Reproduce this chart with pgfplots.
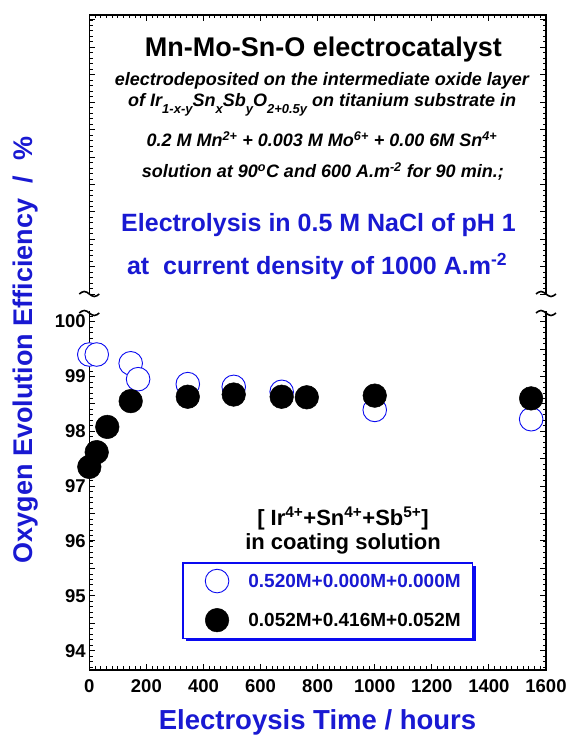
\documentclass[border=0pt]{standalone}
\usepackage{fontspec}
\setmainfont{Liberation Sans}
\usepackage{pgfplots}
\pgfplotsset{compat=1.18}
\usetikzlibrary{shadows}
\definecolor{tblue}{RGB}{25,25,210}
\definecolor{cblue}{RGB}{10,10,240}
\newcommand{\fs}[1]{\fontsize{#1bp}{#1bp}\selectfont}
\newcommand{\sub}[1]{\raisebox{-7.5bp}{\fs{13}#1}}
\pgfplotsset{mylegimg/.style={legend image code/.code={\path (-21.5bp,0); \draw[##1] plot coordinates {(0,0)};}}}
\begin{document}
\begin{tikzpicture}
\begin{axis}[name=ax, scale only axis, width=456.7bp, height=655bp,
  xmin=0, xmax=1600, ymin=93.648, ymax=105.59,
  xtick={0,200,...,1600}, minor x tick num=9,
  ytick={94,95,...,100},
  extra y ticks={94.5,95.5,96.5,97.5,98.5,99.5,100.5,101,101.5,102,102.5,103,103.5,104,104.5,105,105.5},
  extra y tick labels={},
  minor ytick={93.7,93.8,...,105.6},
  axis line style={line width=1.5bp},
  major tick style={line width=1bp, black}, minor tick style={line width=0.8bp, black},
  major tick length=6bp, minor tick length=3.5bp,
  tick align=inside,
  ticklabel style={font=\fs{18.5}\bfseries},
  /pgf/number format/assume math mode=true,
  /pgf/number format/1000 sep={},
  scaled ticks=false,
  xticklabel style={yshift=-6bp},
  clip=false,
  legend style={at={(axis cs:325,95.617)}, anchor=north west, draw=cblue, line width=1.5bp,
    fill=white, inner xsep=12bp, inner ysep=6.5bp, row sep=15.5bp, column sep=19.5bp,
    cells={anchor=west}, nodes={inner sep=0pt, text depth=0pt, font=\fs{19}\bfseries},
    drop shadow={shadow xshift=3bp, shadow yshift=-3bp, fill=cblue, opacity=1}},
]
\addplot[only marks, mark=*, mark size=11.8bp,
  mark options={draw=cblue, fill=white, line width=0.9bp}, mylegimg]
  coordinates {(0,99.40) (26,99.40) (145,99.24) (171,98.95) (345,98.86) (506,98.81) (674,98.72) (1000,98.39) (1548,98.22)};
\addlegendentry{\textcolor{tblue}{0.520M+0.000M+0.000M}}
\addplot[only marks, mark=*, mark size=11.8bp,
  mark options={draw=black, fill=black, line width=0.5bp}, mylegimg]
  coordinates {(0,97.35) (26,97.62) (63,98.08) (145,98.55) (345,98.63) (506,98.67) (674,98.63) (762,98.62) (1000,98.65) (1548,98.60)};
\addlegendentry{0.052M+0.416M+0.052M}

\node[anchor=base, font=\fs{27}\bfseries] at (axis cs:820,104.83) {Mn-Mo-Sn-O electrocatalyst};
\node[anchor=base, font=\fs{18}\bfseries\itshape] at (axis cs:815,104.30) {electrodeposited on the intermediate oxide layer};
\node[anchor=base, font=\fs{18}\bfseries\itshape] at (axis cs:816,103.93) {of Ir\sub{1-x-y}Sn\sub{x}Sb\sub{y}O\sub{2+0.5y} on titanium substrate in};
\node[anchor=base, font=\fs{18}\bfseries\itshape] at (axis cs:815,103.19) {0.2 M Mn\textsuperscript{2+} + 0.003 M Mo\textsuperscript{6+} + 0.00 6M Sn\textsuperscript{4+}};
\node[anchor=base, font=\fs{18}\bfseries\itshape] at (axis cs:818,102.62) {solution at 90\textsuperscript{o}C and 600 A.m\textsuperscript{-2} for 90 min.;};
\node[anchor=base, font=\fs{25}\bfseries, text=tblue] at (axis cs:803,101.65) {Electrolysis in 0.5 M NaCl of pH 1};
\node[anchor=base, font=\fs{25}\bfseries, text=tblue] at (axis cs:798,100.85) {at\ \ current density of 1000 A.m\textsuperscript{-2}};
\node[anchor=base, font=\fs{22}\bfseries] at (axis cs:889,96.29) {[ Ir\textsuperscript{4+}+Sn\textsuperscript{4+}+Sb\textsuperscript{5+}]};
\node[anchor=base, font=\fs{22}\bfseries] at (axis cs:889,95.85) {in coating solution};
\node[rotate=90, anchor=base, font=\fs{27}\bfseries, text=tblue] at (rel axis cs:-0.1233,0.4885) {Oxygen Evolution Efficiency\ \ /\ \ \%};
\node[anchor=base, font=\fs{27.5}\bfseries, text=tblue] at (rel axis cs:0.4997,-0.0916) {Electroysis Time / hours};
\end{axis}
\fill[white] ([shift={(-4bp,358.5bp)}]ax.south west) rectangle ([shift={(8bp,374.5bp)}]ax.south west);
\fill[white] ([shift={(-8bp,358.5bp)}]ax.south east) rectangle ([shift={(4bp,374.5bp)}]ax.south east);
\foreach \yy in {357,376} {
  \draw[line width=1.6bp] ([shift={(-10bp,\yy bp)}]ax.south west) sin ++(5bp,2.5bp) cos ++(5bp,-2.5bp) sin ++(5bp,-2.5bp) cos ++(5bp,2.5bp);
  \draw[line width=1.6bp] ([shift={(-10bp,\yy bp)}]ax.south east) sin ++(5bp,2.5bp) cos ++(5bp,-2.5bp) sin ++(5bp,-2.5bp) cos ++(5bp,2.5bp);
}
\pgfresetboundingbox
\path[use as bounding box] ([shift={(-89.3bp,-65bp)}]ax.south west) rectangle ([shift={(26bp,15bp)}]ax.north east);
\end{tikzpicture}
\end{document}
